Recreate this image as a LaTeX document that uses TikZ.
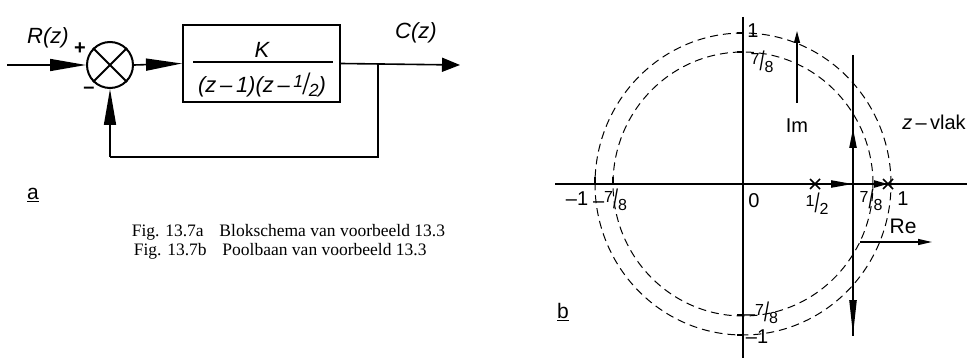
\documentclass[tikz,border=0pt]{standalone}
\usepackage{fontspec}
\usepackage{graphicx}
\setmainfont{Liberation Serif}
\newfontfamily\dinfont{Liberation Sans}
\usetikzlibrary{arrows.meta}
\newcommand{\vfr}[2]{{\scalebox{0.8}{\raisebox{0.5ex}{#1}}\raisebox{-0.15ex}{\scalebox{0.9}[1.35]{/}}\scalebox{0.8}{\raisebox{-0.45ex}{#2}}}}
\begin{document}
\begin{tikzpicture}[x=1pt,y=-1pt,
  line width=1.6pt,
  lbl/.style={font=\dinfont\fontsize{22}{22}\selectfont\itshape, inner sep=0pt},
  num/.style={font=\dinfont\fontsize{20}{20}\selectfont, inner sep=0pt},
  captext/.style={font=\fontsize{17.5}{17.5}\selectfont, inner sep=0pt, anchor=west},
  bigarrow/.style={-{Triangle[length=36pt,width=12pt]}},
  dashc/.style={line width=1pt, dash pattern=on 8pt off 5pt},
  blk/.style={draw, line width=2pt, minimum width=157pt, minimum height=77pt, inner sep=0pt}]
\useasboundingbox (0,0) rectangle (979,358);
% ---------- panel a ----------
\coordinate (in) at (7,65);
\node[draw, circle, line width=2pt, minimum size=46pt, inner sep=0pt] (sum) at (110,65) {};
\draw[line width=2pt] (sum.north west) -- (sum.south east) (sum.north east) -- (sum.south west);
\node[blk] (G) at (261.5,63.5) {};
\node[lbl] (K) at (262,50) {K};
\draw[line width=1.6pt] (193,62) -- (333,62);
\node[lbl] (den) at (262,85) {(z\,–\,1)(z\,–\,\vfr{1}{2})};
\coordinate (out) at (460,65);
\coordinate (br) at (378,65);
\coordinate (fb1) at (378,157);
\coordinate (fb2) at (110,157);
\draw[bigarrow] (in) -- (sum.west);
\draw[bigarrow] (sum.east) -- (G.west);
\draw[-{Triangle[length=18pt,width=14pt]}] (G.east) -- (out);
\draw (br) -- (fb1) -- (fb2);
\draw[bigarrow] (fb2) -- (sum.south);
\node[lbl] (R) at (48,38) {R(z)};
\node[lbl, font=\dinfont\fontsize{20}{20}\selectfont\bfseries] (plus) at (80,49) {+};
\node[lbl, font=\dinfont\fontsize{20}{20}\selectfont\bfseries] (minus) at (89,90) {–};
\node[lbl] (C) at (416,33) {C(z)};
\node[num, font=\dinfont\fontsize{21}{21}\selectfont] (a) at (33,195) {\underline{a}};
\node[captext] (c1) at (131,232) {Fig. 13.7a\hspace{0.9em}Blokschema van voorbeeld 13.3};
\node[captext] (c2) at (133,251) {Fig. 13.7b\hspace{0.9em}Poolbaan van voorbeeld 13.3};
% ---------- panel b ----------
\coordinate (O) at (743,184);
\draw[dashc] (O) ellipse [x radius=148pt, y radius=151pt];
\draw[dashc] (O) ellipse [x radius=130pt, y radius=132pt];
\coordinate (xl) at (555,184);
\coordinate (xr) at (967,184);
\coordinate (yt) at (743,17);
\coordinate (yb) at (743,358);
\draw (xl) -- (xr);
\draw (yt) -- (yb);
% ticks
\draw (737,33) -- (743,33) (737,52) -- (743,52) (737,315) -- (743,315) (737,335) -- (743,335);
\draw (595,184) -- (595,177) (613,184) -- (613,177);
% poles
\coordinate (p1) at (815,184);
\coordinate (p2) at (888,184);
\coordinate (ba) at (853,184);
\draw (810,179) -- (820,189) (810,189) -- (820,179);
\draw (883,179) -- (893,189) (883,189) -- (893,179);
% root locus
\coordinate (lt) at (853,55);
\coordinate (lb) at (853,336);
\draw[line width=2.2pt] (lt) -- (lb);
\draw[line width=2.2pt, -{Triangle[length=20pt,width=7pt]}] (853,160) -- (853,128);
\draw[line width=2.2pt, -{Triangle[length=36pt,width=7pt]}] (853,296) -- (lb);
\draw[line width=2.2pt, -{Triangle[length=22pt,width=7pt]}] (p1) -- (ba);
\draw[line width=2.2pt, -{Triangle[length=14pt,width=7pt]}] (ba) -- (p2);
% Im and Re arrows
\coordinate (im0) at (797,103);
\coordinate (im1) at (797,31);
\draw[line width=1.3pt, -{Triangle[length=12pt,width=6pt]}] (im0) -- (im1);
\node[num] (Im) at (797,126) {Im};
\coordinate (re0) at (860,242);
\coordinate (re1) at (932,242);
\draw[line width=1.3pt, -{Triangle[length=14pt,width=6pt]}] (re0) -- (re1);
\node[num, font=\dinfont\fontsize{21}{21}\selectfont] (Re) at (903,226) {Re};
\node[num] (zv) at (934,122) {\textit{z}\,–\,vlak};
% axis labels
\node[num] (l1) at (753,31) {1};
\node[num] (l78) at (762,62) {\vfr{7}{8}};
\node[num] (lm1) at (577,199) {–1};
\node[num] (lm78) at (610,200) {–\vfr{7}{8}};
\node[num] (l0) at (754,201) {0};
\node[num] (lh) at (817,204) {\vfr{1}{2}};
\node[num] (l78b) at (871,200) {\vfr{7}{8}};
\node[num] (l1b) at (903,199) {1};
\node[num] (lm78b) at (761,313) {–\vfr{7}{8}};
\node[num] (lm1b) at (757,337) {–1};
\node[num, font=\dinfont\fontsize{21}{21}\selectfont] (b) at (563,312) {\underline{b}};
\end{tikzpicture}
\end{document}
